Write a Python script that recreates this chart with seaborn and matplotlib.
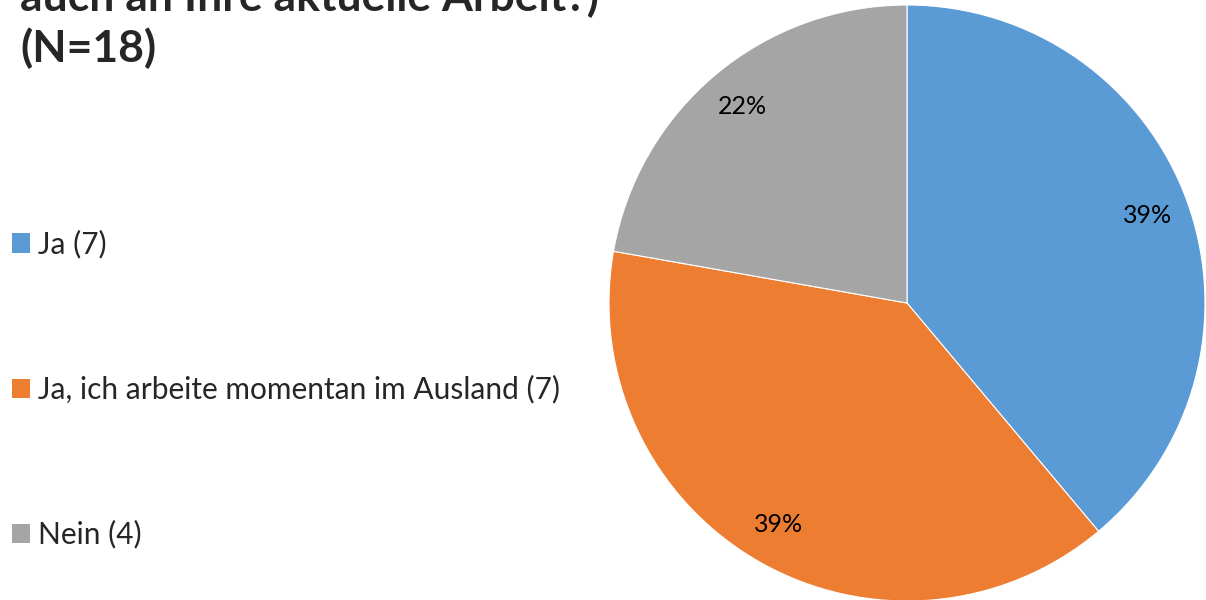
import matplotlib
matplotlib.use("Agg")
import matplotlib.pyplot as plt
import seaborn as sns
from matplotlib.patches import Patch

sns.set_theme(style="white")
plt.rcParams['font.family'] = ['Lato', 'DejaVu Sans']

categories = ["Ja (7)", "Ja, ich arbeite momentan im Ausland (7)", "Nein (4)"]
counts = [7, 7, 4]
colors = ["#5B9BD5", "#ED7D31", "#A5A5A5"]
title_lines = ["auch an Ihre aktuelle Arbeit?)", "(N=18)"]

W, H = 1206, 600
fig = plt.figure(figsize=(W / 100, H / 100), dpi=100)
fig.patch.set_facecolor("white")

cx, cy, r = 907, 303, 298
ax = fig.add_axes([(cx - r) / W, (H - cy - r) / H, 2 * r / W, 2 * r / H])
wedges, texts, autotexts = ax.pie(
    counts, colors=colors, startangle=90, counterclock=False,
    autopct=lambda p: f"{p:.0f}%", pctdistance=0.86, radius=1,
    wedgeprops=dict(linewidth=0.8, edgecolor="white"),
    textprops=dict(fontsize=18, color="#000000"),
)
ax.set_xlim(-1, 1)
ax.set_ylim(-1, 1)
ax.set_aspect("equal")
ax.axis("off")

# Title; its upper line runs off the top of the canvas
fig.text(20 / W, 1 - 62 / H, title_lines[1], fontsize=32, fontweight="bold",
         ha="left", va="baseline")
fig.text(20 / W, 1 - 11 / H, title_lines[0], fontsize=32, fontweight="bold",
         ha="left", va="baseline")

handles = [Patch(facecolor=c, edgecolor="none") for c in colors]
leg = fig.legend(handles, categories, loc="upper left",
                 bbox_to_anchor=(0 / W, 1 - 218 / H), frameon=False,
                 fontsize=21.5, handlelength=0.62, handleheight=0.62,
                 handletextpad=0.25, labelspacing=3.9, borderaxespad=0)

fig.savefig("out.png", dpi=100)
